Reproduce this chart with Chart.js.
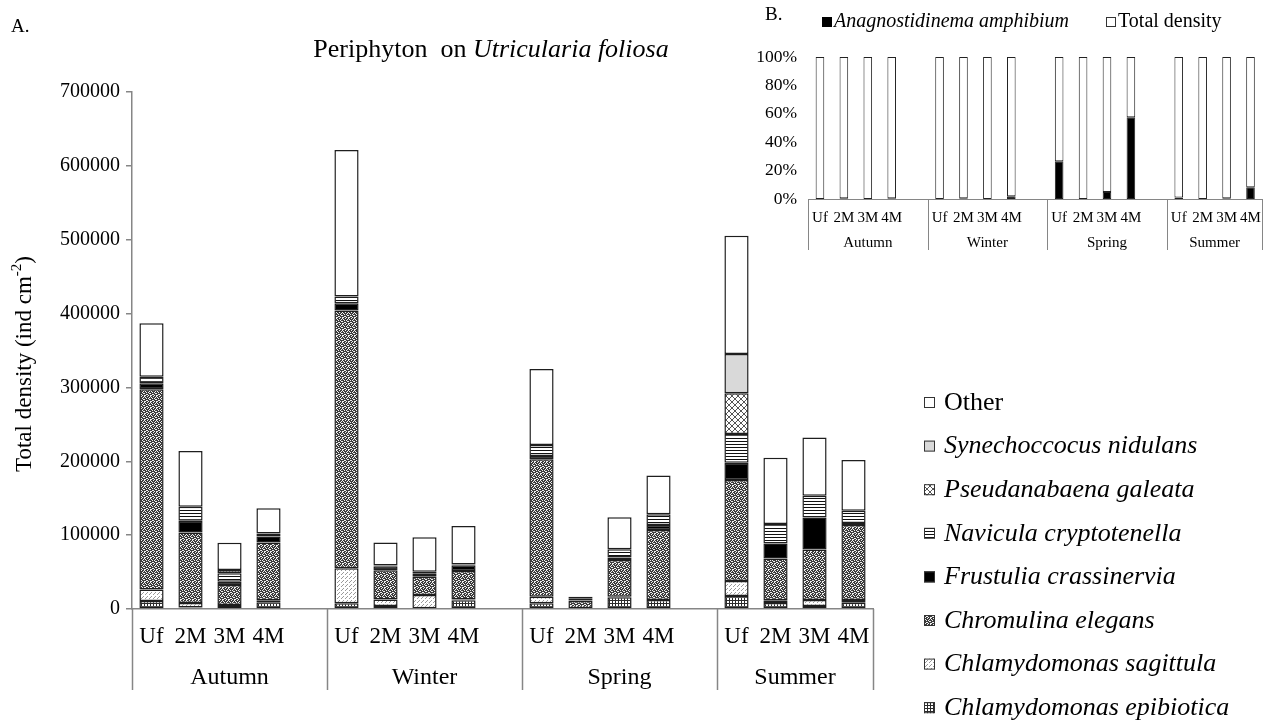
<!DOCTYPE html>
<html>
<head>
<meta charset="utf-8">
<script src="https://cdn.jsdelivr.net/npm/chart.js@4.4.1/dist/chart.umd.min.js"></script>
<style>
html, body { margin: 0; padding: 0; background: #fff; }
#wrap { position: relative; width: 1271px; height: 723px; overflow: hidden; }
#mainChart { position: absolute; left: 0; top: 0; }
#insetChart { position: absolute; left: 750px; top: 0; }
</style>
</head>
<body>
<div id="wrap">
  <canvas id="mainChart" width="1271" height="723"></canvas>
  <canvas id="insetChart" width="521" height="260"></canvas>
</div>
<script>
// Données (ind cm-2), ordre : Autumn, Winter, Spring, Summer x Uf, 2M, 3M, 4M
const seasons = ['Autumn', 'Winter', 'Spring', 'Summer'];
const sites = ['Uf', '2M', '3M', '4M'];
const yTicks = [0, 100000, 200000, 300000, 400000, 500000, 600000, 700000];

const epibiotica    = [11000, 2000, 4000, 9000,   7700, 4000, 1000, 12000,   7700, 0, 16000, 12200,   17600, 8000, 4000, 8500];
const sagittula     = [15500, 6000, 1500, 3000,   47400, 9000, 18000, 1000,  9000, 0, 700, 0,           20300, 4000, 8100, 3600];
const chromulina    = [271000, 95500, 27000, 78000, 349000, 39500, 24800, 38300, 186000, 11000, 49700, 94800, 136800, 56500, 68600, 101600];
const frustulia     = [8000, 16000, 4500, 8000,   10000, 5500, 4000, 8000,   4400, 500, 3200, 6800,     23400, 20300, 43300, 2700];
const navicula      = [9000, 19000, 11300, 4300,  8900, 1000, 2500, 1000,    15000, 2500, 11200, 14500, 38900, 26200, 29200, 16700];
const pseudanabaena = [0, 0, 4500, 0,             0, 0, 0, 0,                0, 0, 0, 0,                55100, 0, 0, 0];
const synechococcus = [0, 0, 0, 0,                0, 0, 0, 0,                0, 0, 0, 0,                53300, 0, 0, 0];
const other         = [72500, 75500, 37000, 34000, 198500, 31000, 46700, 52200, 103000, 2700, 43300, 52300, 159800, 89800, 79100, 68600];

// Encart B : part de Anagnostidinema amphibium (%)
const insetTicks = [0, 20, 40, 60, 80, 100];
const anagnostidinema = [0, 0.5, 0, 0.5,  0, 0.5, 0, 2,  26.5, 0, 5, 57.5,  1, 0, 0.5, 8.2];
const totalDensity = anagnostidinema.map(v => 100 - v);

const SERIF = "'Liberation Serif', 'Times New Roman', serif";

// une case vide entre chaque saison
function withGaps(vals) {
    const out = [];
    vals.forEach((v, i) => {
        out.push(v);
        if (i % 4 === 3 && i < vals.length - 1) out.push(null);
    });
    return out;
}
const xLabels = withGaps(seasons.flatMap(() => sites)).map(v => v === null ? '' : v);

// Motifs de remplissage (style Excel noir et blanc)
function makePattern(size, draw) {
    const c = document.createElement('canvas');
    c.width = size; c.height = size;
    const g = c.getContext('2d');
    g.fillStyle = '#fff';
    g.fillRect(0, 0, size, size);
    draw(g, size);
    return document.createElement('canvas').getContext('2d').createPattern(c, 'repeat');
}
const patGrid = makePattern(3, (g) => {
    g.fillStyle = '#2a2a2a';
    g.fillRect(0, 0, 3, 1);
    g.fillRect(0, 0, 1, 3);
});
const patDiag = makePattern(4, (g) => {
    g.fillStyle = '#9a9a9a';
    g.fillRect(3, 0, 1, 1);
    g.fillRect(2, 1, 1, 1);
    g.fillRect(1, 2, 1, 1);
});
const patDots = makePattern(6, (g) => {
    g.fillStyle = '#3c3c3c';
    g.fillRect(0, 0, 6, 6);
    g.fillStyle = '#f0f0f0';
    [[0, 0], [3, 0], [1, 1], [4, 2], [2, 2], [0, 3], [5, 3], [3, 4], [1, 5], [4, 5], [2, 4], [5, 1], [0, 5]]
        .forEach(p => g.fillRect(p[0], p[1], 1, 1));
});
const patStripes = makePattern(3, (g) => {
    g.fillStyle = '#111';
    g.fillRect(0, 0, 3, 1);
});
const patCross = makePattern(6, (g) => {
    g.strokeStyle = '#555';
    g.lineWidth = 1;
    g.beginPath();
    g.moveTo(0, 0); g.lineTo(6, 6);
    g.moveTo(0, 6); g.lineTo(6, 0);
    g.stroke();
});

const seriesDefs = [
    { label: 'Chlamydomonas epibiotica', data: epibiotica, fill: patGrid, italic: true },
    { label: 'Chlamydomonas sagittula', data: sagittula, fill: patDiag, italic: true },
    { label: 'Chromulina elegans', data: chromulina, fill: patDots, italic: true },
    { label: 'Frustulia crassinervia', data: frustulia, fill: '#000000', italic: true },
    { label: 'Navicula cryptotenella', data: navicula, fill: patStripes, italic: true },
    { label: 'Pseudanabaena galeata', data: pseudanabaena, fill: patCross, italic: true },
    { label: 'Synechoccocus nidulans', data: synechococcus, fill: '#d9d9d9', italic: true },
    { label: 'Other', data: other, fill: '#ffffff', italic: false }
];

// Décor du graphique principal : titres, séparateurs de saisons, légende
const mainDecor = {
    id: 'mainDecor',
    afterDraw(chart) {
        const ctx = chart.ctx;
        const area = chart.chartArea;
        const slot = (area.right - area.left) / xLabels.length;
        ctx.save();

        // séparateurs et noms de saisons
        ctx.strokeStyle = '#868686';
        ctx.lineWidth = 1.5;
        const bounds = [0, 5, 10, 15, xLabels.length];
        ctx.beginPath();
        bounds.forEach(b => {
            const x = Math.round(area.left + b * slot) + 0.5;
            ctx.moveTo(x, area.bottom);
            ctx.lineTo(x, area.bottom + 81);
        });
        ctx.stroke();
        ctx.fillStyle = '#000';
        ctx.font = '24px ' + SERIF;
        ctx.textAlign = 'center';
        ctx.textBaseline = 'middle';
        seasons.forEach((s, i) => {
            const x0 = area.left + bounds[i] * slot;
            const x1 = area.left + bounds[i + 1] * slot;
            ctx.fillText(s, (x0 + x1) / 2, 678);
        });

        // "A." et titre
        ctx.textAlign = 'left';
        ctx.font = '19px ' + SERIF;
        ctx.fillText('A.', 11, 27);
        const t1 = 'Periphyton  on ';
        const t2 = 'Utricularia foliosa';
        ctx.font = '26px ' + SERIF;
        const w1 = ctx.measureText(t1).width;
        ctx.font = 'italic 26px ' + SERIF;
        const w2 = ctx.measureText(t2).width;
        const tx = 491 - (w1 + w2) / 2;
        ctx.font = '26px ' + SERIF;
        ctx.fillText(t1, tx, 50);
        ctx.font = 'italic 26px ' + SERIF;
        ctx.fillText(t2, tx + w1, 50);

        // titre de l'axe Y
        ctx.save();
        ctx.translate(25, 364);
        ctx.rotate(-Math.PI / 2);
        const a = 'Total density (ind cm';
        const sup = '-2';
        const c = ')';
        ctx.font = '23px ' + SERIF;
        const wa = ctx.measureText(a).width;
        const wc = ctx.measureText(c).width;
        ctx.font = '15px ' + SERIF;
        const ws = ctx.measureText(sup).width;
        let px = -(wa + ws + wc) / 2;
        ctx.font = '23px ' + SERIF;
        ctx.fillText(a, px, 0);
        px += wa;
        ctx.font = '15px ' + SERIF;
        ctx.fillText(sup, px, -8);
        px += ws;
        ctx.font = '23px ' + SERIF;
        ctx.fillText(c, px, 0);
        ctx.restore();

        // légende (ordre inversé)
        const ds = chart.data.datasets.slice().reverse();
        ds.forEach((d, i) => {
            const y = 403 + i * 43.6;
            ctx.fillStyle = d.backgroundColor;
            ctx.fillRect(924, y - 6, 11, 11);
            ctx.strokeStyle = '#333';
            ctx.lineWidth = 1;
            ctx.strokeRect(924.5, y - 5.5, 10, 10);
            ctx.fillStyle = '#000';
            ctx.font = (d.italic ? 'italic ' : '') + '26px ' + SERIF;
            ctx.textBaseline = 'middle';
            ctx.fillText(d.label, 944, y);
        });
        ctx.restore();
    }
};

const mainChart = new Chart(document.getElementById('mainChart').getContext('2d'), {
    type: 'bar',
    data: {
        labels: xLabels,
        datasets: seriesDefs.map(s => ({
            label: s.label,
            data: withGaps(s.data),
            backgroundColor: s.fill,
            borderColor: '#1e1e1e',
            borderWidth: 1.5,
            borderSkipped: false,
            barPercentage: 0.62,
            categoryPercentage: 1,
            italic: s.italic
        }))
    },
    options: {
        responsive: false,
        animation: false,
        layout: { padding: { left: 0, top: 92, right: 398, bottom: 24 } },
        plugins: { legend: { display: false }, tooltip: { enabled: false } },
        scales: {
            x: {
                stacked: true,
                grid: { display: false, drawTicks: false },
                border: { display: true, color: '#868686', width: 1.5 },
                ticks: {
                    color: '#000', font: { family: SERIF, size: 23 },
                    padding: 14, maxRotation: 0, autoSkip: false
                },
                afterFit: (s) => { s.height = 90; }
            },
            y: {
                stacked: true,
                min: 0, max: 700000,
                afterBuildTicks: (s) => { s.ticks = yTicks.map(v => ({ value: v })); },
                ticks: {
                    color: '#000', font: { family: SERIF, size: 20 }, padding: 6,
                    callback: (v) => String(v)
                },
                grid: { drawOnChartArea: false, drawTicks: true, tickLength: 6, color: '#868686', lineWidth: 1.5 },
                border: { display: true, color: '#868686', width: 1.5 },
                afterFit: (s) => { s.width = 132; }
            }
        }
    },
    plugins: [mainDecor]
});

// Encart B
const insetDecor = {
    id: 'insetDecor',
    afterDraw(chart) {
        const ctx = chart.ctx;
        const area = chart.chartArea;
        const slot = (area.right - area.left) / xLabels.length;
        ctx.save();
        ctx.strokeStyle = '#868686';
        ctx.lineWidth = 1;
        const bounds = [0, 5, 10, 15, xLabels.length];
        ctx.beginPath();
        bounds.forEach(b => {
            const x = Math.round(area.left + b * slot) + 0.5;
            ctx.moveTo(x, area.bottom);
            ctx.lineTo(x, area.bottom + 51);
        });
        ctx.stroke();
        ctx.fillStyle = '#000';
        ctx.font = '15px ' + SERIF;
        ctx.textAlign = 'center';
        ctx.textBaseline = 'middle';
        seasons.forEach((s, i) => {
            const x0 = area.left + bounds[i] * slot;
            const x1 = area.left + bounds[i + 1] * slot;
            ctx.fillText(s, (x0 + x1) / 2, 243);
        });

        ctx.textAlign = 'left';
        ctx.font = '19px ' + SERIF;
        ctx.fillText('B.', 15, 15);

        // légende
        ctx.fillStyle = '#000';
        ctx.fillRect(72, 17, 10, 10);
        ctx.font = 'italic 20px ' + SERIF;
        ctx.fillText('Anagnostidinema amphibium', 84, 22);
        ctx.fillStyle = '#fff';
        ctx.fillRect(356, 17, 10, 10);
        ctx.strokeStyle = '#333';
        ctx.strokeRect(356.5, 17.5, 9, 9);
        ctx.fillStyle = '#000';
        ctx.font = '20px ' + SERIF;
        ctx.fillText('Total density', 368, 22);
        ctx.restore();
    }
};

const insetChart = new Chart(document.getElementById('insetChart').getContext('2d'), {
    type: 'bar',
    data: {
        labels: xLabels,
        datasets: [
            {
                label: 'Anagnostidinema amphibium',
                data: withGaps(anagnostidinema),
                backgroundColor: '#000', borderColor: '#222', borderWidth: 1, borderSkipped: false,
                barPercentage: 0.36, categoryPercentage: 1
            },
            {
                label: 'Total density',
                data: withGaps(totalDensity),
                backgroundColor: '#fff', borderColor: '#222', borderWidth: 1, borderSkipped: false,
                barPercentage: 0.36, categoryPercentage: 1
            }
        ]
    },
    options: {
        responsive: false,
        animation: false,
        layout: { padding: { left: 0, top: 57, right: 3, bottom: 0 } },
        plugins: { legend: { display: false }, tooltip: { enabled: false } },
        scales: {
            x: {
                stacked: true,
                grid: { display: false, drawTicks: false },
                border: { display: true, color: '#868686', width: 1 },
                ticks: { color: '#000', font: { family: SERIF, size: 15 }, padding: 10, maxRotation: 0, autoSkip: false },
                afterFit: (s) => { s.height = 61; }
            },
            y: {
                stacked: true,
                min: 0, max: 100,
                afterBuildTicks: (s) => { s.ticks = insetTicks.map(v => ({ value: v })); },
                ticks: { color: '#000', font: { family: SERIF, size: 17.5 }, padding: 11, callback: (v) => v + '%' },
                grid: { display: false, drawTicks: false },
                border: { display: false },
                afterFit: (s) => { s.width = 58; }
            }
        }
    },
    plugins: [insetDecor]
});
</script>
</body>
</html>
